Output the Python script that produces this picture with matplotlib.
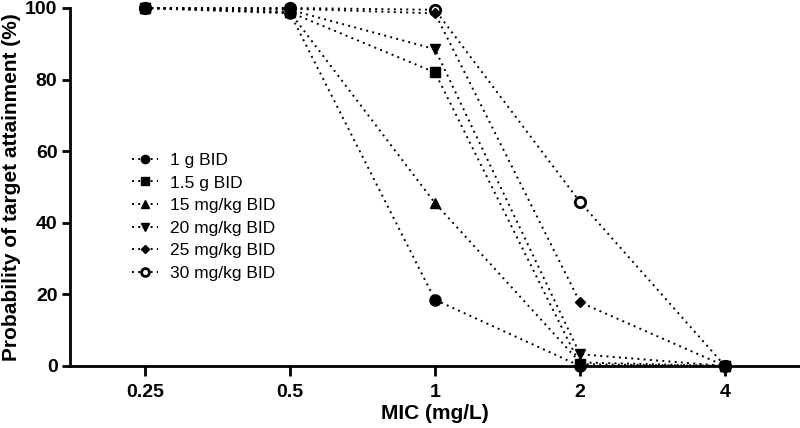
import numpy as np
import matplotlib
matplotlib.use('Agg')
import matplotlib.pyplot as plt
from matplotlib.ticker import FixedLocator, FixedFormatter, NullLocator

# MIC values (mg/L) and probability of target attainment (%)
mic = [0.25, 0.5, 1, 2, 4]
mic_labels = ['0.25', '0.5', '1', '2', '4']

pta_1g = [100, 98.5, 18.5, 0, 0]
pta_1_5g = [100, 98.8, 82, 0.5, 0]
pta_15mgkg = [100, 98.8, 45.5, 1, 0]
pta_20mgkg = [100, 99.5, 88.5, 3.3, 0]
pta_25mgkg = [100, 99.8, 98.5, 17.8, 0]
pta_30mgkg = [100, 100, 99.5, 45.8, 0]

series_labels = ['1 g BID', '1.5 g BID', '15 mg/kg BID',
                 '20 mg/kg BID', '25 mg/kg BID', '30 mg/kg BID']

plt.rcParams['font.family'] = ['Liberation Sans Narrow', 'Liberation Sans', 'DejaVu Sans']

fig = plt.figure(figsize=(8, 4.28), dpi=100)
ax = fig.add_axes([70 / 800, 62 / 428, 730 / 800, 358 / 428])

styles = [
    dict(marker='o', mfc='black', ms=8),
    dict(marker='s', mfc='black', ms=7),
    dict(marker='^', mfc='black', ms=7),
    dict(marker='v', mfc='black', ms=7),
    dict(marker='D', mfc='black', ms=5.5),
    dict(marker='o', mfc='white', ms=7.5, mew=2),
]
data = [pta_1g, pta_1_5g, pta_15mgkg, pta_20mgkg, pta_25mgkg, pta_30mgkg]

# first series ends up on top, as in the original
for i, (vals, lab, st) in enumerate(zip(data, series_labels, styles)):
    ax.plot(mic, vals, color='black', linestyle=(0, (1, 2.2)), linewidth=1.4,
            mec='black', label=lab, clip_on=False, zorder=10 - i, **st)

ax.set_xscale('log', base=2)
ax.set_xlim(0.25 * 2 ** -0.517, 4 * 2 ** 0.517)
ax.set_ylim(0, 100)
ax.xaxis.set_major_locator(FixedLocator(mic))
ax.xaxis.set_major_formatter(FixedFormatter(mic_labels))
ax.xaxis.set_minor_locator(NullLocator())
ax.set_yticks([0, 20, 40, 60, 80, 100])

for s in ['top', 'right']:
    ax.spines[s].set_visible(False)
for s in ['left', 'bottom']:
    ax.spines[s].set_linewidth(2)

ax.tick_params(axis='both', direction='out', width=2, labelsize=14)
ax.tick_params(axis='x', length=7, pad=6)
ax.tick_params(axis='y', length=6, pad=3)
for lbl in ax.get_xticklabels() + ax.get_yticklabels():
    lbl.set_fontweight('bold')

ax.set_xlabel('MIC (mg/L)', fontsize=15, fontweight='bold', labelpad=2)
ax.set_ylabel('Probability of target attainment (%)', fontsize=15,
              fontweight='bold', labelpad=3)

ax.legend(loc='upper left', bbox_to_anchor=(0.075, 0.615), frameon=False,
          prop={'family': 'Liberation Sans', 'size': 12.5},
          handlelength=1.5, handletextpad=0.7, markerscale=0.75,
          labelspacing=0.43, borderaxespad=0)

fig.savefig('out.png', dpi=100)
